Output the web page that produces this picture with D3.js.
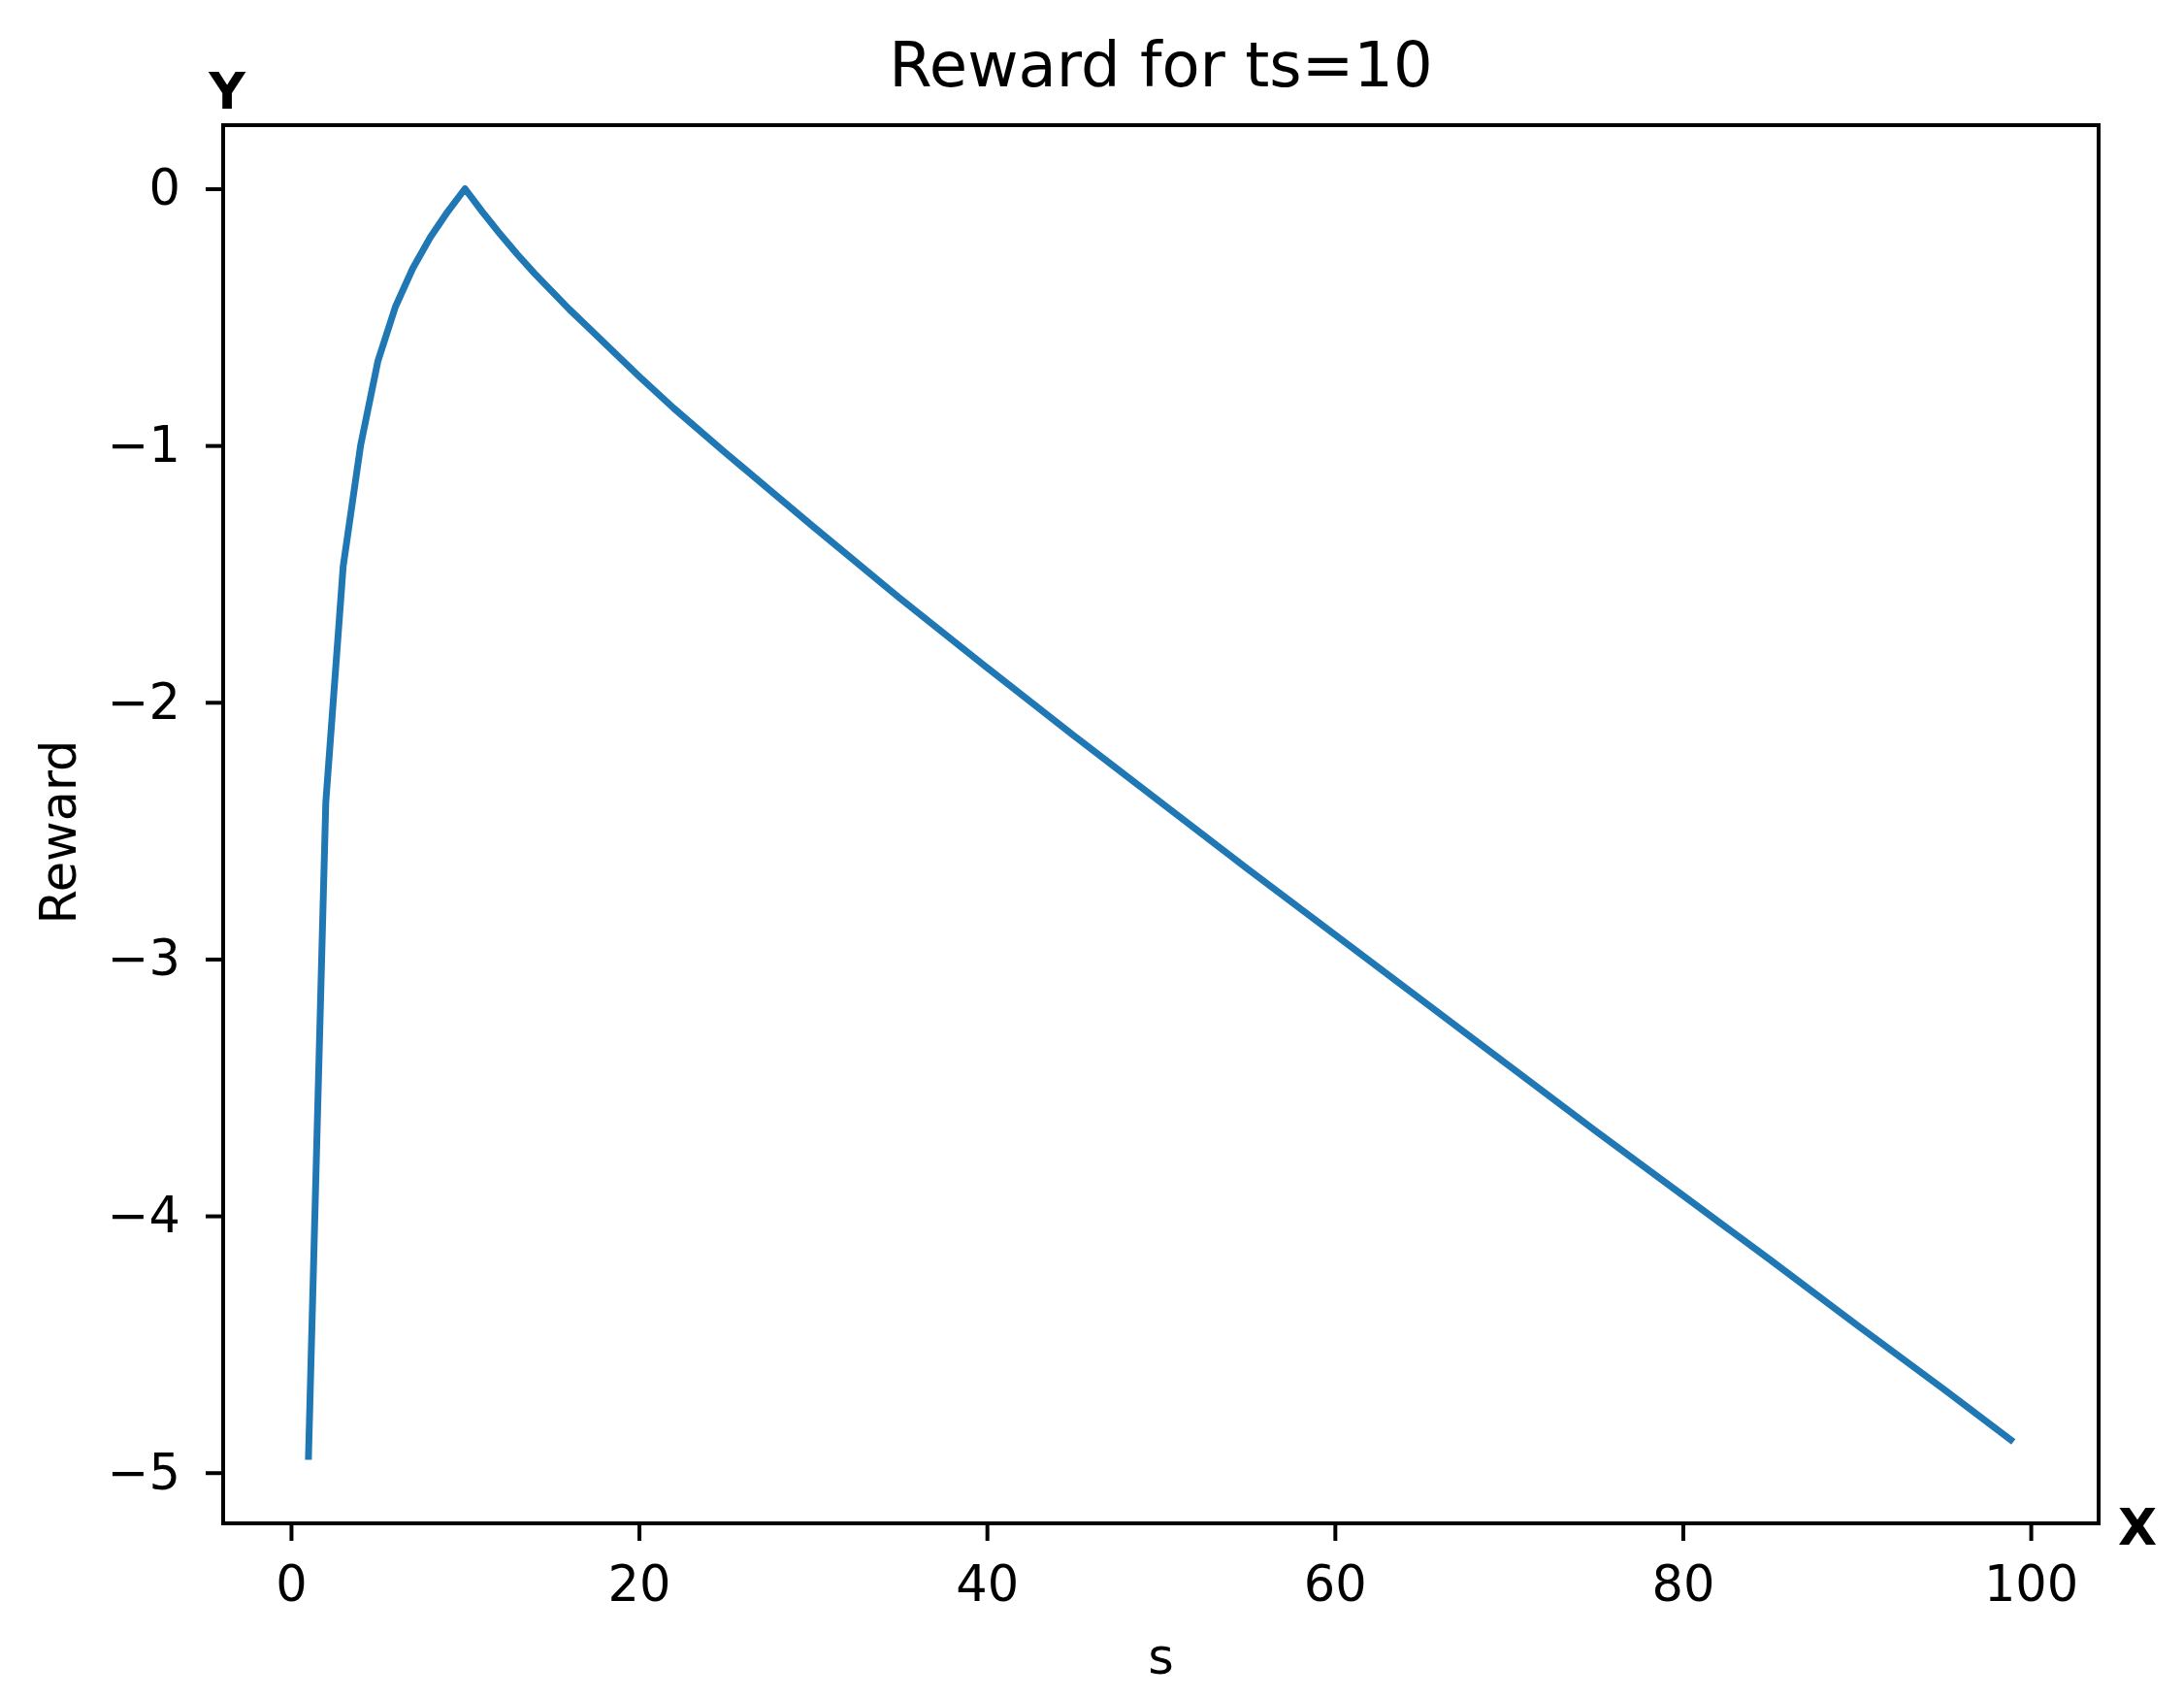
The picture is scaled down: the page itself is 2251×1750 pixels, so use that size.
<!DOCTYPE html>
<html>
<head>
<meta charset="utf-8">
<script src="https://cdn.jsdelivr.net/npm/d3@7"></script>
<style>
  body { margin: 0; background: #fff; }
  text { font-family: 'DejaVu Sans', sans-serif; }
</style>
</head>
<body>
<svg id="chart" width="2251" height="1750"></svg>
<script>
// values
let sValues = [1, 2, 3, 4, 5, 6, 7, 8, 9, 10, 11, 12, 13, 14, 15, 16, 17, 18, 19, 20, 22, 25, 30, 35, 40, 45, 50, 55, 60, 65, 70, 75, 80, 85, 90, 95, 99]
let rewardValues = [-4.95, -2.39, -1.47, -1.0, -0.67, -0.46, -0.31, -0.19, -0.09, 0,
  -0.09, -0.175, -0.255, -0.33, -0.40, -0.47, -0.535, -0.60, -0.665, -0.73,
  -0.855, -1.03, -1.315, -1.595, -1.865, -2.13, -2.39, -2.65, -2.905, -3.16,
  -3.415, -3.67, -3.92, -4.17, -4.425, -4.675, -4.88]
let xTicks = [0, 20, 40, 60, 80, 100]
let yTicks = [0, -1, -2, -3, -4, -5]

let margin = { top: 129, left: 230, right: 88, bottom: 180 }
let width = 2251 - margin.left - margin.right
let height = 1750 - margin.top - margin.bottom

let svg = d3.select('#chart')
let g = svg.append('g').attr('transform', `translate(${margin.left},${margin.top})`)

let points = sValues.map((s, i) => ({ s: s, r: rewardValues[i] }))

// matplotlib style 5% padding
let xExt = d3.extent(sValues)
let yExt = d3.extent(rewardValues)
let xPad = (xExt[1] - xExt[0]) * 0.05
let yPad = (yExt[1] - yExt[0]) * 0.05

let xScale = d3.scaleLinear().domain([xExt[0] - xPad, xExt[1] + xPad]).range([0, width])
let yScale = d3.scaleLinear().domain([yExt[0] - yPad, yExt[1] + yPad]).range([height, 0])

let fmt = d => (d < 0 ? '\u2212' + Math.abs(d) : '' + d)

let xAxis = g.append('g')
  .attr('transform', `translate(0,${height})`)
  .call(d3.axisBottom(xScale).tickValues(xTicks).tickFormat(fmt).tickSize(18).tickSizeOuter(0).tickPadding(26))
let yAxis = g.append('g')
  .call(d3.axisLeft(yScale).tickValues(yTicks).tickFormat(fmt).tickSize(18).tickSizeOuter(0).tickPadding(26))

;[xAxis, yAxis].forEach(ax => {
  ax.select('.domain').remove()
  ax.selectAll('line').attr('stroke', '#000').attr('stroke-width', 4)
  ax.selectAll('text').attr('font-size', 51).attr('fill', '#000').style('font-family', 'DejaVu Sans')
})

let line = d3.line().x(d => xScale(d.s)).y(d => yScale(d.r))

g.append('path')
  .datum(points)
  .attr('d', line)
  .attr('fill', 'none')
  .attr('stroke', '#1f77b4')
  .attr('stroke-width', 7)
  .attr('stroke-linejoin', 'round')

// frame
g.append('rect')
  .attr('width', width)
  .attr('height', height)
  .attr('fill', 'none')
  .attr('stroke', '#000')
  .attr('stroke-width', 4)

svg.append('text')
  .attr('x', margin.left + width / 2)
  .attr('y', 89)
  .attr('text-anchor', 'middle')
  .attr('font-size', 64)
  .text('Reward for ts=10')

svg.append('text')
  .attr('x', margin.left + width / 2)
  .attr('y', 1725)
  .attr('text-anchor', 'middle')
  .attr('font-size', 51)
  .text('s')

svg.append('text')
  .attr('transform', `translate(78,${margin.top + height / 2 + 8}) rotate(-90)`)
  .attr('text-anchor', 'middle')
  .attr('font-size', 51)
  .text('Reward')

svg.append('text')
  .attr('x', 234)
  .attr('y', 112)
  .attr('text-anchor', 'middle')
  .attr('font-size', 52)
  .attr('font-weight', 'bold')
  .text('Y')

svg.append('text')
  .attr('x', 2183)
  .attr('y', 1592)
  .attr('font-size', 52)
  .attr('font-weight', 'bold')
  .text('X')
</script>
</body>
</html>
